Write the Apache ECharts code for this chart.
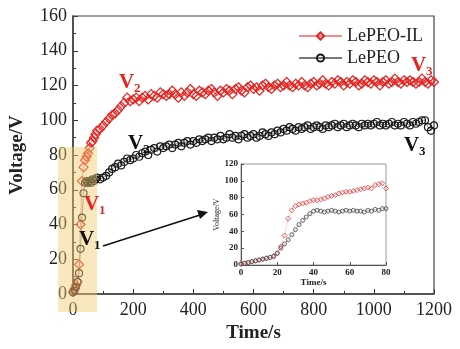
<!DOCTYPE html>
<html><head><meta charset="utf-8">
<script src="https://cdn.jsdelivr.net/npm/echarts@6/dist/echarts.min.js"></script>
<style>html,body{margin:0;padding:0;background:#fff}#c{width:460px;height:349px}</style>
</head><body><div id="c"></div>
<script>
// Main chart data (time in s, voltage in V)
const mainTime = [0,5,10,15,20,25,30,35,40,45,50,55,60,65,70,75,80,
90,100,110,120,130,140,150,160,170,180,190,200,210,220,230,240,250,260,270,280,290,300,
310,320,330,340,350,360,370,380,390,400,410,420,430,440,450,460,470,480,490,500,
510,520,530,540,550,560,570,580,590,600,610,620,630,640,650,660,670,680,690,700,
710,720,730,740,750,760,770,780,790,800,810,820,830,840,850,860,870,880,890,900,
910,920,930,940,950,960,970,980,990,1000,1010,1020,1030,1040,1050,1060,1070,1080,1090,1100,
1110,1120,1130,1140,1150,1160,1170,1180,1190,1200];
const lepeoIL = [1,3,5,7,17,40,65,73,77,79,81,84,87,88,90,92,94,
95,97,99,101,103,104,106,108,110,113,111,112,113,111,113,114,112,115,114,113,116,115,
114,115,117,115,113,116,114,116,118,115,114,117,116,115,117,118,116,114,117,116,
118,117,115,118,119,117,116,119,120,118,119,117,120,121,119,118,120,121,119,120,
122,120,119,121,120,122,120,119,121,122,120,121,123,121,120,122,121,123,122,120,
122,121,123,122,120,121,123,122,121,123,122,120,122,123,121,122,124,122,121,123,
122,123,122,121,122,124,122,121,123,122];
const lepeo = [1,2,4,7,12,26,44,58,64,65,64,65,64,66,65,66,67,
66,67,68,70,72,73,75,74,76,78,77,78,80,79,81,82,80,83,84,82,85,84,
85,86,84,86,87,85,87,88,86,88,87,89,88,89,90,88,90,89,91,89,
90,92,90,91,89,91,92,90,91,92,90,91,93,92,91,93,92,94,93,95,
94,96,95,94,96,95,96,97,95,96,97,96,95,97,96,97,98,96,97,98,
96,97,98,97,96,98,97,98,97,98,99,97,98,97,98,99,97,98,97,99,
98,97,99,98,99,100,100,96,94,97];
// Inset data (first 80 s)
const insetTime = [0,2,4,6,8,10,12,14,16,18,20,22,24,26,28,30,32,34,36,38,40,
42,44,46,48,50,52,54,56,58,60,62,64,66,68,70,72,74,76,78,80];
const insetIL = [2,2,3,4,5,6,7,8,9,11,14,22,35,55,65,70,72,73,74,76,77,
77,78,79,81,82,83,85,86,87,87,88,89,90,91,92,91,95,96,97,91];
const insetPEO = [1,2,3,4,5,6,7,8,9,10,14,20,25,30,36,42,48,53,57,61,64,
65,64,63,64,65,64,63,64,65,64,65,64,64,63,65,64,66,65,67,67];

const F = 'Liberation Serif';
const pair = (t, v) => t.map((x, i) => [x, v[i]]);
const chart = echarts.init(document.getElementById('c'));

function vLabel(sub, color, x, y) {
  return [
    {type:'text', left:x, top:y, z:50,
      style:{text:'V', fill:color, font:'bold 21px "Liberation Serif"'}},
    {type:'text', left:x + 15, top:y + 10, z:50,
      style:{text:sub, fill:color, font:'bold 13px "Liberation Serif"'}}
  ];
}

const axisBase = (min, max, interval) => ({
  type:'value', min:min, max:max, interval:interval,
  axisLine:{show:true, lineStyle:{color:'#333', width:1.5}},
  axisTick:{show:true, inside:true, length:5, lineStyle:{color:'#333'}},
  minorTick:{show:true, splitNumber:2, length:3, lineStyle:{color:'#333'}},
  splitLine:{show:false}
});
const plain = v => String(v);

const option = {
  animation:false,
  backgroundColor:'#fff',
  grid:[
    {left:70, right:26, top:16, bottom:55, show:true, borderColor:'#444', borderWidth:1.2, z:3},
    {left:241, top:164, width:145, height:101, show:true, borderColor:'#999', borderWidth:1, backgroundColor:'#fff', z:20}
  ],
  legend:{
    left:293, top:22, orient:'vertical', itemWidth:43, itemHeight:9, itemGap:4,
    textStyle:{fontFamily:F, fontSize:18, color:'#222'},
    data:['LePEO-IL','LePEO']
  },
  xAxis:[
    Object.assign(axisBase(0,1200,200), {gridIndex:0, name:'Time/s', nameLocation:'middle', nameGap:30,
      nameTextStyle:{fontFamily:F, fontSize:19, fontWeight:'bold', color:'#222'},
      axisLabel:{fontFamily:F, fontSize:18, color:'#222', margin:7, formatter:plain}}),
    Object.assign(axisBase(0,80,20), {gridIndex:1, name:'Time/s', nameLocation:'middle', nameGap:12,
      nameTextStyle:{fontFamily:F, fontSize:9, fontWeight:'bold', color:'#222'}, z:21,
      axisLine:{show:true, lineStyle:{color:'#555', width:1}},
      axisTick:{show:true, inside:true, length:3, lineStyle:{color:'#555'}},
      minorTick:{show:false},
      axisLabel:{fontFamily:F, fontSize:9, fontWeight:'bold', color:'#222', margin:3, formatter:plain}})
  ],
  yAxis:[
    Object.assign(axisBase(0,160,20), {gridIndex:0, name:'Voltage/V', nameLocation:'middle', nameGap:46,
      nameTextStyle:{fontFamily:F, fontSize:19, fontWeight:'bold', color:'#222'},
      axisLabel:{fontFamily:F, fontSize:18, color:'#222', margin:6, formatter:plain}}),
    Object.assign(axisBase(0,120,20), {gridIndex:1, name:'Voltage/V', nameLocation:'middle', nameGap:19,
      nameTextStyle:{fontFamily:F, fontSize:8, color:'#222'}, z:21,
      axisLine:{show:true, lineStyle:{color:'#555', width:1}},
      axisTick:{show:true, inside:true, length:3, lineStyle:{color:'#555'}},
      minorTick:{show:false},
      axisLabel:{fontFamily:F, fontSize:9, fontWeight:'bold', color:'#222', margin:3, formatter:plain}})
  ],
  series:[
    {name:'LePEO-IL', type:'line', xAxisIndex:0, yAxisIndex:0, data:pair(mainTime, lepeoIL),
      symbol:'diamond', symbolSize:9, z:5, showAllSymbol:true,
      lineStyle:{color:'#f28a8a', width:0.8},
      itemStyle:{color:'rgba(0,0,0,0)', borderColor:'#e52420', borderWidth:1.2}},
    {name:'LePEO', type:'line', xAxisIndex:0, yAxisIndex:0, data:pair(mainTime, lepeo),
      symbol:'circle', symbolSize:7, z:5, showAllSymbol:true,
      lineStyle:{color:'#777', width:0.8},
      itemStyle:{color:'rgba(0,0,0,0)', borderColor:'#1a1a1a', borderWidth:1.2}},
    {name:'inIL', type:'line', xAxisIndex:1, yAxisIndex:1, data:pair(insetTime, insetIL),
      symbol:'diamond', symbolSize:5, z:22, showAllSymbol:true,
      lineStyle:{color:'#f5b0b0', width:0.6},
      itemStyle:{color:'rgba(0,0,0,0)', borderColor:'#e04848', borderWidth:0.9}},
    {name:'inPEO', type:'line', xAxisIndex:1, yAxisIndex:1, data:pair(insetTime, insetPEO),
      symbol:'circle', symbolSize:4, z:22, showAllSymbol:true,
      lineStyle:{color:'#aaa', width:0.6},
      itemStyle:{color:'rgba(0,0,0,0)', borderColor:'#555', borderWidth:0.9}}
  ],
  graphic:[
    {type:'rect', shape:{x:58, y:147, width:39, height:165}, z:40,
      style:{fill:'rgba(242,205,110,0.45)'}},
    ...vLabel('1', '#e52420', 84, 194),
    ...vLabel('1', '#111', 79, 229),
    ...vLabel('2', '#e52420', 119, 72),
    ...vLabel('2', '#111', 128, 133),
    ...vLabel('3', '#e52420', 411, 55),
    ...vLabel('3', '#111', 404, 135),
    {type:'line', shape:{x1:103, y1:246, x2:200, y2:215}, z:50, style:{stroke:'#111', lineWidth:1.5}},
    {type:'polygon', shape:{points:[[208,212],[197,210],[200,219]]}, z:50, style:{fill:'#111'}}
  ]
};
chart.setOption(option);
</script></body></html>
